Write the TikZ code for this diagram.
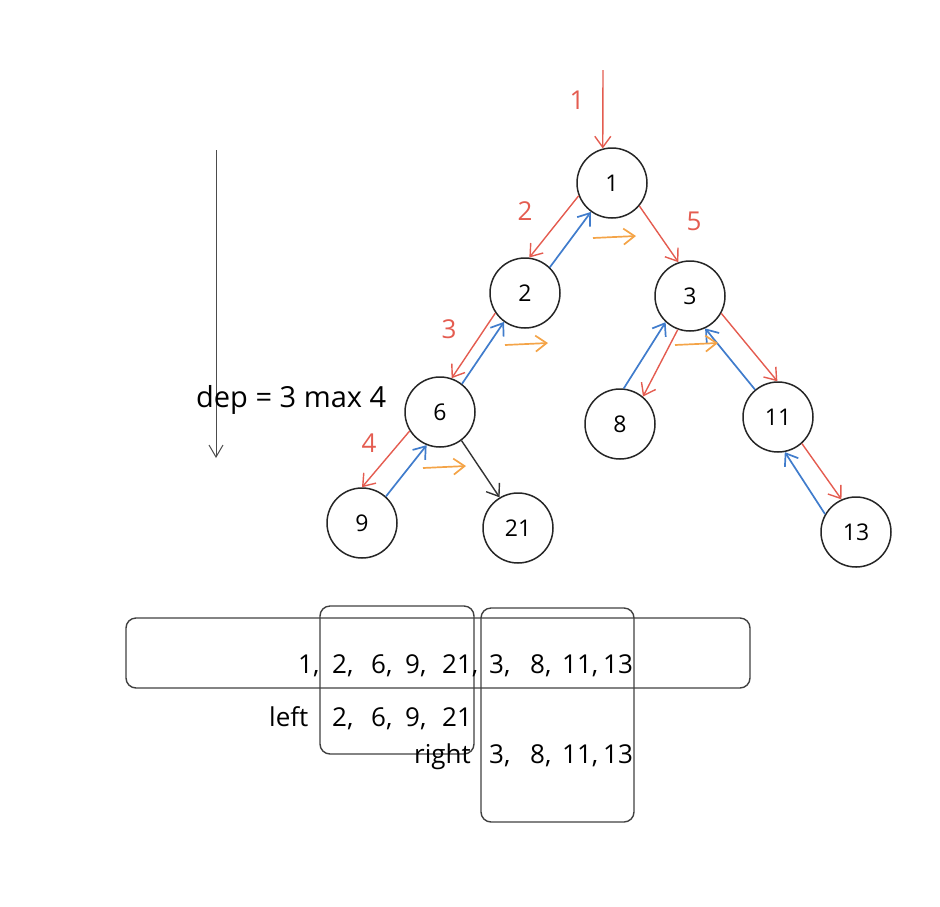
\documentclass[tikz,border=0pt]{standalone}
\usepackage{fontspec}
\setmainfont{Open Sans}
\usetikzlibrary{arrows.meta}
\definecolor{visitred}{RGB}{228,92,80}
\definecolor{backblue}{RGB}{64,124,204}
\definecolor{nextorange}{RGB}{244,164,72}
\begin{document}
\begin{tikzpicture}
[x=1pt,y=-1pt,
  nodedecorate/.style={shape=circle,minimum size=70pt,inner sep=0pt,draw=black!85,
    line width=1.5pt,font=\fontsize{23}{27}\selectfont},
  tipdecorate/.style={-{Straight Barb[length=11pt,width=16pt]}},
  visitdecorate/.style={tipdecorate,draw=visitred,line width=1.4pt},
  backdecorate/.style={tipdecorate,draw=backblue,line width=1.7pt},
  nextdecorate/.style={tipdecorate,draw=nextorange,line width=1.7pt},
  stepdecorate/.style={text=visitred,font=\fontsize{26}{30}\selectfont},
  boxdecorate/.style={draw=black!75,line width=1.4pt,rounded corners=10pt},
  listdecorate/.style={anchor=base west,inner sep=0pt,font=\fontsize{26}{30}\selectfont}]
\useasboundingbox (0,0) rectangle (940,906);
%% nodes or vertices
\foreach \nodename/\x/\y in {1/612/183, 2/525/293, 3/690/296, 6/440/412,
  8/620/424, 11/778/417, 9/362/523, 21/518/528, 13/856/532}
{
  \node (v\nodename) at (\x,\y) [nodedecorate] {\nodename};
}
\foreach \stepname/\x/\y in {1/577/100, 2/525/211, 5/694/221, 3/449/329,
  4/369/443}
{
  \node (s\stepname) at (\x,\y) [stepdecorate] {\stepname};
}
%% edges or lines
\coordinate (entry) at (603,70);
\draw[visitdecorate] (entry) -- (v1.105);
\path
\foreach \startnode/\startangle/\endnode/\endangle in {1/201/2/83, 1/320/3/109,
  2/214/6/71, 6/212/9/90, 3/250/8/50, 3/331/11/91, 11/312/13/114}
{
  (v\startnode.\startangle) edge[visitdecorate] (v\endnode.\endangle)
};
\path
\foreach \startnode/\startangle/\endnode/\endangle in {2/46/1/234, 6/52/2/234,
  9/48/6/248, 8/84/3/227, 11/130/3/295, 13/150/11/281}
{
  (v\startnode.\startangle) edge[backdecorate] (v\endnode.\endangle)
};
\draw[tipdecorate,draw=black!80,line width=1.4pt] (v6.307) -- (v21.121);
\foreach \nextname/\x/\y in {a/593/238, b/505/345, c/423/468, d/675/345}
{
  \coordinate (next\nextname) at (\x,\y);
  \draw[nextdecorate] (next\nextname) -- ++(43,-2);
}
%% depth
\coordinate (deptop) at (216,150);
\coordinate (depbottom) at (216,458);
\draw[-{Straight Barb[length=12pt,width=14pt]},draw=black!70,line width=1pt]
  (deptop) -- (depbottom);
\node (depth) at (196,407) [anchor=base west,inner sep=0pt,
  font=\fontsize{29}{34}\selectfont] {dep = 3 max 4};
%% lists
\draw[boxdecorate] (126,618) rectangle (750,688);
\draw[boxdecorate] (320,606) rectangle (474,754);
\draw[boxdecorate] (481,608) rectangle (634,822);
\foreach [count=\i] \itemtext/\x in {{1,}/298, {2,}/332, {6,}/371, {9,}/405,
  {21,}/442, {3,}/489, {8,}/530, {11,}/562, 13/603}
{
  \node (all\i) at (\x,673) [listdecorate] {\itemtext};
}
\foreach [count=\i] \itemtext/\x in {left/269, {2,}/332, {6,}/371, {9,}/405,
  21/442}
{
  \node (left\i) at (\x,726) [listdecorate] {\itemtext};
}
\foreach [count=\i] \itemtext/\x in {right/414, {3,}/489, {8,}/530, {11,}/562,
  13/603}
{
  \node (right\i) at (\x,763) [listdecorate] {\itemtext};
}
\end{tikzpicture}
\end{document}
